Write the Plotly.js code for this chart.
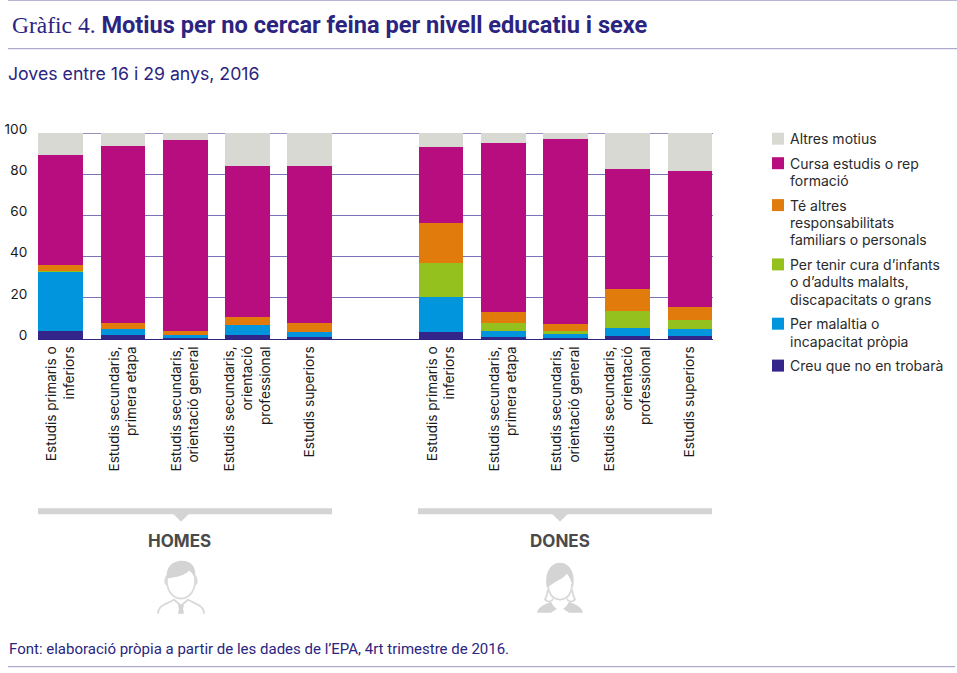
<!DOCTYPE html>
<html>
<head>
<meta charset="utf-8">
<script src="https://cdn.plot.ly/plotly-3.0.1.min.js"></script>
<style>html,body{margin:0;padding:0;background:#fff}</style>
</head>
<body>
<div id="chart" style="width:957px;height:673px"></div>
<script>
const INK = "#2b2480";
const SANS = "Roboto, sans-serif";
const BODY = "Inter, sans-serif";

// education levels, same five for each sex
const levels = [
  "Estudis primaris o<br>inferiors",
  "Estudis secundaris,<br>primera etapa",
  "Estudis secundaris,<br>orientació general",
  "Estudis secundaris,<br>orientació<br>professional",
  "Estudis superiors"
];
const slotsMen = [0, 1, 2, 3, 4];
const slotsWomen = [6.11, 7.11, 8.11, 9.11, 10.11];

// percentages, men then women
const creuMen = [3.7, 1.8, 0.6, 1.9, 1.0];
const creuWomen = [3.2, 1.1, 0.3, 1.5, 1.5];
const malaltiaMen = [28.7, 3.1, 1.3, 4.7, 2.2];
const malaltiaWomen = [17.4, 2.9, 2.0, 4.0, 3.5];
const curaMen = [0.4, 0, 0, 0, 0.4];
const curaWomen = [16.5, 3.9, 1.7, 8.3, 4.1];
const respMen = [3.2, 3.0, 2.1, 4.2, 4.0];
const respWomen = [19.4, 5.4, 3.4, 10.6, 6.6];
const estudisMen = [53.3, 85.8, 92.6, 73.0, 76.5];
const estudisWomen = [36.9, 81.7, 89.7, 58.1, 65.7];
const altresMen = [10.7, 6.3, 3.4, 16.2, 15.9];
const altresWomen = [6.6, 5.0, 2.9, 17.5, 18.6];

const slots = slotsMen.concat(slotsWomen);

function bar(lines, men, women, color) {
  return {
    type: "bar", name: lines.join(" "),
    x: slots, y: men.concat(women),
    width: 0.72,
    marker: { color: color, line: { width: 0 } },
    showlegend: false,
    hoverinfo: "y+name"
  };
}

// legend reads top to bottom, stack goes bottom to top
const legendItems = [
  { lines: ["Altres motius"], color: "#d9d9d3", men: altresMen, women: altresWomen },
  { lines: ["Cursa estudis o rep", "formació"], color: "#b80d7f", men: estudisMen, women: estudisWomen },
  { lines: ["Té altres", "responsabilitats", "familiars o personals"], color: "#e07b0c", men: respMen, women: respWomen },
  { lines: ["Per tenir cura d’infants", "o d’adults malalts,", "discapacitats o grans"], color: "#95c11f", men: curaMen, women: curaWomen },
  { lines: ["Per malaltia o", "incapacitat pròpia"], color: "#0095dc", men: malaltiaMen, women: malaltiaWomen },
  { lines: ["Creu que no en trobarà"], color: "#33258a", men: creuMen, women: creuWomen }
];
const traces = legendItems.slice().reverse().map(d => bar(d.lines, d.men, d.women, d.color));

// page pixels to paper coords for the furniture around the plot
const L = 38, R = 713, T = 133.3, B = 339.3;
const px = v => (v - L) / (R - L);
const py = v => (B - v) / (B - T);

function rule(x0, x1, y) {
  return { type: "line", xref: "paper", yref: "paper", x0: px(x0), x1: px(x1), y0: py(y), y1: py(y),
    line: { color: "#9a95c2", width: 1 } };
}
function bracket(x0, x1, mid) {
  return [
    { type: "rect", xref: "paper", yref: "paper", x0: px(x0), x1: px(x1), y0: py(514.5), y1: py(508.5),
      fillcolor: "#d4d4d4", line: { width: 0 } },
    { type: "path", xref: "paper", yref: "paper",
      path: `M${px(mid - 8)},${py(514)} L${px(mid + 8)},${py(514)} L${px(mid)},${py(522)} Z`,
      fillcolor: "#d4d4d4", line: { width: 0 } }
  ];
}
function label(text, x, y, size, extra) {
  return Object.assign({
    text: text, xref: "paper", yref: "paper", x: px(x - 2), y: py(y),
    xanchor: "left", yanchor: "middle", showarrow: false,
    font: { family: SANS, size: size, color: INK }
  }, extra || {});
}
function icon(svg, x, y, w, h) {
  return {
    source: "data:image/svg+xml;utf8," + encodeURIComponent(svg),
    xref: "paper", yref: "paper", x: px(x), y: py(y),
    sizex: w / (R - L), sizey: h / (B - T),
    xanchor: "left", yanchor: "top", sizing: "stretch", layer: "above"
  };
}

// hand-built legend, swatch sits on the first line of each entry
const legendShapes = [];
const legendLabels = [];
let legendY = 139;
legendItems.forEach(d => {
  legendShapes.push({ type: "rect", xref: "paper", yref: "paper",
    x0: px(772), x1: px(784), y0: py(legendY + 6), y1: py(legendY - 6),
    fillcolor: d.color, line: { width: 0 } });
  d.lines.forEach((t, i) => {
    if (i > 0) legendY += 17.4;
    legendLabels.push(label(t, 790, legendY, 14, { font: { family: BODY, size: 14, color: "#2a2a2a" } }));
  });
  legendY += 24.5;
});

const manSvg = `<svg xmlns="http://www.w3.org/2000/svg" width="50" height="56" viewBox="0 0 50 56">
<path d="M11 19 C10 30 15 39 25 40 C35 39 40 30 39 19" fill="none" stroke="#d9d9d9" stroke-width="1.8"/>
<path d="M11 17 C8 21 9 25 11 26 M39 17 C42 21 41 25 39 26" fill="none" stroke="#d9d9d9" stroke-width="1.8"/>
<path d="M11 20 C9 8 17 2 26 2 C35 2 41 8 39 20 C37 15 35 13 33 12 C28 17 21 18 16 19 C14 19 12 20 11 20 Z" fill="#d4d4d4"/>
<path d="M2 55 C2 47 9 46 18 41 L25 47 L32 41 C41 46 48 47 48 55" fill="none" stroke="#d9d9d9" stroke-width="1.8"/>
<path d="M22 46 L28 46 L27 50 L28 55 L22 55 L23 50 Z" fill="#d4d4d4"/>
</svg>`;
const womanSvg = `<svg xmlns="http://www.w3.org/2000/svg" width="50" height="52" viewBox="0 0 50 52">
<path d="M13 22 C13 31 17 37 25 38 C33 37 37 31 37 22" fill="none" stroke="#d9d9d9" stroke-width="1.8"/>
<path d="M12 26 C9 12 15 1 25 1 C35 1 41 12 38 26 C37 20 34 15 32 12 C27 18 19 20 12 26 Z" fill="#d4d4d4"/>
<path d="M13 28 C12 33 11 36 10 38 C13 41 17 40 18 37 M37 28 C38 33 39 36 40 38 C37 41 33 40 32 37" fill="none" stroke="#d9d9d9" stroke-width="1.8"/>
<path d="M2 51 C3 46 8 43 16 40 C18 44 20 46 22 47 L16 51 Z M48 51 C47 46 42 43 34 40 C32 44 30 46 28 47 L34 51 Z" fill="#d4d4d4"/>
</svg>`;

const layout = {
  width: 957, height: 673,
  margin: { l: L, r: 957 - R, t: T, b: 673 - B, pad: 0 },
  paper_bgcolor: "#fff", plot_bgcolor: "#fff",
  barmode: "stack",
  bargap: 0,
  showlegend: false,
  font: { family: BODY, size: 14, color: "#1a1a1a" },
  xaxis: {
    range: [-0.365, 10.48], tickmode: "array", tickvals: slots,
    ticktext: levels.concat(levels), tickangle: -90,
    ticks: "outside", ticklen: 1, tickcolor: "rgba(0,0,0,0)", showgrid: false,
    zeroline: false, showline: false,
    tickfont: { family: BODY, size: 13.6, color: "#1a1a1a" }
  },
  yaxis: {
    range: [0, 100], tickmode: "array", tickvals: [0, 20, 40, 60, 80, 100],
    ticks: "outside", ticklen: 7, tickcolor: "rgba(0,0,0,0)",
    ticklabelshift: -4,
    gridcolor: "#7a72b4", gridwidth: 1, zeroline: true, zerolinecolor: INK, zerolinewidth: 1,
    tickfont: { family: BODY, size: 13.6, color: "#1a1a1a" }
  },
  shapes: [
    rule(8, 957, 0.5), rule(8, 957, 49), rule(8, 955, 667),
    { type: "line", xref: "paper", yref: "y", x0: 0, x1: 1, y0: 100, y1: 100, line: { color: INK, width: 1 }, layer: "below" }
  ].concat(bracket(38, 332, 181), bracket(418, 712, 560), legendShapes),
  annotations: [
    label('<span style="font-family:\'Liberation Serif\',serif;font-size:23.5px">Gràfic 4.</span> <b>Motius per no cercar feina per nivell educatiu i sexe</b>', 12, 25, 23.6),
    label("Joves entre 16 i 29 anys, 2016", 8, 74, 17.7, { font: { family: BODY, size: 17.7, color: INK } }),
    label("Font: elaboració pròpia a partir de les dades de l’EPA, 4rt trimestre de 2016.", 9, 649, 15),
    label("<b>HOMES</b>", 181, 541, 17, { xanchor: "center", font: { family: BODY, size: 17, color: "#4a4a4a" } }),
    label("<b>DONES</b>", 562, 541, 17, { xanchor: "center", font: { family: BODY, size: 17, color: "#4a4a4a" } })
  ].concat(legendLabels),
  images: [
    icon(manSvg, 156, 559, 50, 56),
    icon(womanSvg, 535, 562, 50, 52)
  ]
};

Plotly.newPlot("chart", traces, layout, { displayModeBar: false, staticPlot: true });
</script>
</body>
</html>
